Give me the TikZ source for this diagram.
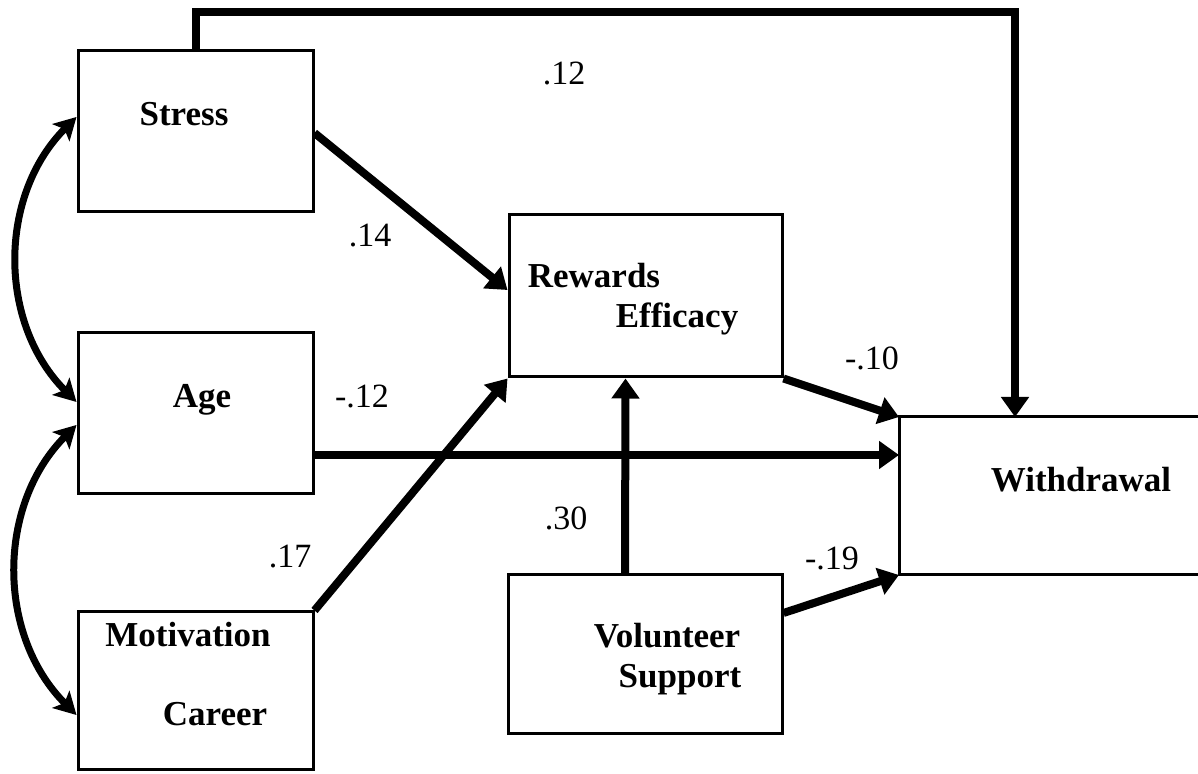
\documentclass[tikz,border=0pt]{standalone}
\usepackage{fontspec}
\setmainfont{Liberation Serif}
\usetikzlibrary{arrows.meta}

\tikzset{
  box/.style={draw, line width=3pt, rectangle, inner sep=0pt},
  lbl/.style={anchor=base, inner sep=0pt, font=\bfseries\fontsize{35}{42}\selectfont},
  coef/.style={anchor=base, inner sep=0pt, font=\fontsize{34}{40}\selectfont},
  arr/.style={line width=8pt, line join=miter, -{Triangle[length=20pt,width=27pt]}},
  carr/.style={line width=7pt, {Stealth[length=22pt,width=24pt,inset=5pt]}-{Stealth[length=22pt,width=24pt,inset=5pt]}}
}

\begin{document}
\begin{tikzpicture}[x=1pt,y=1pt]
  \useasboundingbox (0,0) rectangle (1198,773);
  \fill[white] (0,0) rectangle (1198,773);

  % variable boxes
  \node[box, minimum width=235pt, minimum height=161pt] (stress) at (195.5,641.5) {};
  \node[box, minimum width=235pt, minimum height=161pt] (age)    at (195.5,359.5) {};
  \node[box, minimum width=235pt, minimum height=157pt] (mot)    at (195.5,82.5) {};
  \node[box, minimum width=273pt, minimum height=162pt] (rew)    at (645.5,477) {};
  \node[box, minimum width=274pt, minimum height=158pt] (vol)    at (645,119) {};
  \node[rectangle, inner sep=0pt, outer sep=0pt, minimum width=299pt, minimum height=158pt] (wd) at (1048.5,277) {};
  \draw[line width=3pt] (wd.north east) -- (wd.north west) -- (wd.south west) -- (wd.south east);

  % box labels
  \node[lbl] (tStress) at (184,647) {Stress};
  \node[lbl] (tAge)    at (202,365) {Age};
  \node[lbl] (tMot)    at (188,126) {Motivation};
  \node[lbl] (tCar)    at (215,48)  {Career};
  \node[lbl] (tRew)    at (594,485) {Rewards};
  \node[lbl] (tEff)    at (677,445) {Efficacy};
  \node[lbl] (tVol)    at (667,125) {Volunteer};
  \node[lbl] (tSup)    at (680,85)  {Support};
  \node[lbl] (tWd)     at (1081,281) {Withdrawal};

  % path coefficients
  \node[coef] (c1) at (564,688) {.12};
  \node[coef] (c2) at (370,526) {.14};
  \node[coef] (c3) at (362,365) {-.12};
  \node[coef] (c4) at (290,205) {.17};
  \node[coef] (c5) at (566,243) {.30};
  \node[coef] (c6) at (872,403) {-.10};
  \node[coef] (c7) at (832,203) {-.19};

  % helper points
  \coordinate (toprun) at (600,761);
  \coordinate (wtop) at ([xshift=-33.5pt]wd.north);
  \coordinate (ageout) at ([yshift=-41.5pt]age.east);

  % directed paths
  \draw[arr] (stress.north) |- (toprun) -| (wtop);
  \draw[arr] ([yshift=-1.5pt]stress.east) -- ([yshift=6pt]rew.west);
  \draw[arr] (mot.north east) -- (rew.south west);
  \draw[arr] (ageout) -- (ageout -| wd.west);
  \draw[arr] ([xshift=-20pt]vol.north) -- ([xshift=-20pt]rew.south);
  \draw[arr] (rew.south east) -- (wd.north west);
  \draw[arr] ([yshift=41pt]vol.east) -- (wd.south west);

  % correlations among exogenous variables
  \draw[carr] ([yshift=14.5pt]stress.west) to[out=225,in=135] ([yshift=11.5pt]age.west);
  \draw[carr] ([yshift=-11.5pt]age.west) to[out=225,in=135] ([yshift=-24.5pt]mot.west);
\end{tikzpicture}
\end{document}
